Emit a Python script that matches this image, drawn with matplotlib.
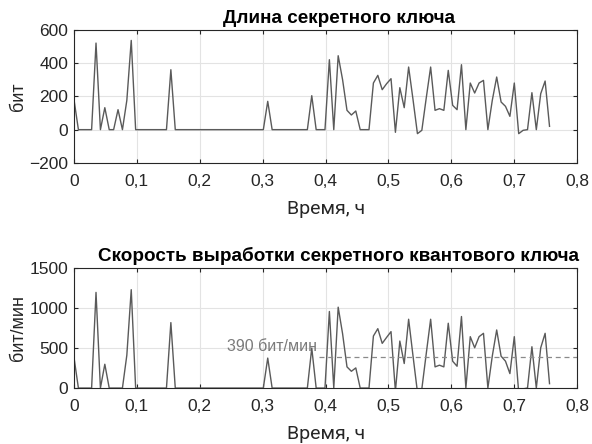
import numpy as np
import matplotlib
matplotlib.use('Agg')
import matplotlib.pyplot as plt

plt.rcParams['font.family'] = ['Liberation Sans', 'DejaVu Sans']

# time step between samples, hours
dt = 0.007

# key length per sample, bits
key_len = [180, 0, 0, 0, 0, 520, 0, 132, 0, 0,
           120, 0, 176, 536, 0, 0, 0, 0, 0, 0,
           0, 0, 360, 0, 0, 0, 0, 0, 0, 0,
           0, 0, 0, 0, 0, 0, 0, 0, 0, 0,
           0, 0, 0, 0, 170, 0, 0, 0, 0, 0,
           0, 0, 0, 0, 204, 0, 0, 0, 420, 0,
           444, 300, 116, 88, 112, 0, 0, 0, 280, 326,
           240, 276, 306, -16, 252, 132, 376, 180, -24, -4,
           190, 376, 116, 126, 116, 356, 146, 120, 390, 0,
           280, 220, 280, 296, 0, 176, 316, 166, 140, 80,
           280, -24, -4, 0, 222, 0, 216, 292, 20]

# key generation rate per sample, bits/min
key_rate = [382, 0, 0, 0, 0, 1197, 0, 298, 0, 0,
            0, 0, 412, 1231, 0, 0, 0, 0, 0, 0,
            0, 0, 819, 0, 0, 0, 0, 0, 0, 0,
            0, 0, 0, 0, 0, 0, 0, 0, 0, 0,
            0, 0, 0, 0, 375, 0, 0, 0, 0, 0,
            0, 0, 0, 0, 500, 0, 0, 0, 958, 0,
            1012, 680, 265, 210, 252, 0, 0, 0, 651, 743,
            559, 634, 706, -40, 588, 307, 861, 400, -50, -10,
            430, 861, 265, 286, 265, 811, 336, 273, 895, 0,
            643, 504, 643, 685, 0, 400, 727, 399, 336, 181,
            643, -55, -10, 0, 517, 0, 504, 685, 55]

mean_rate = 390
mean_from = 0.39

t = np.arange(len(key_len)) * dt

line_color = '#5a5a5a'
spine_color = '#262626'

fig = plt.figure(figsize=(5.92, 4.44), dpi=100)
ax1 = fig.add_axes([0.125, 0.633, 0.850, 0.300])
ax2 = fig.add_axes([0.125, 0.126, 0.850, 0.270])

def style(ax):
    ax.grid(True, color='#e3e3e3', linewidth=0.8)
    ax.set_axisbelow(True)
    for s in ax.spines.values():
        s.set_color(spine_color)
        s.set_linewidth(0.8)
    ax.tick_params(direction='in', length=3, colors=spine_color, labelsize=12.5,
                   top=True, right=True, labeltop=False, labelright=False)
    ax.tick_params(axis='x', pad=8)
    ax.tick_params(axis='y', pad=4)
    ax.set_xlim(0, 0.8)
    ax.set_xticks(np.arange(0, 0.81, 0.1))
    ax.set_xticklabels(['0'] + ['0,%d' % k for k in range(1, 9)])
    ax.set_xlabel('Время, ч', fontsize=14, family=['Roboto', 'DejaVu Sans'],
                  color=spine_color, labelpad=8)

ax1.plot(t, key_len, color=line_color, linewidth=1.0)
style(ax1)
ax1.set_ylim(-200, 600)
ax1.set_yticks([-200, 0, 200, 400, 600])
ax1.set_yticklabels(['\u2212200', '0', '200', '400', '600'])
ax1.set_ylabel('бит', fontsize=13, color=spine_color, labelpad=2)
ax1.set_title('Длина секретного ключа', fontsize=13.6, fontweight='bold',
              pad=5, x=0.527)

ax2.plot(t, key_rate, color=line_color, linewidth=1.0)
ax2.plot([mean_from, 0.8], [mean_rate, mean_rate], color='#8a8a8a',
         linewidth=0.9, linestyle=(0, (4, 3)))
ax2.text(mean_from - 0.003, mean_rate + 40, '%d бит/мин' % mean_rate,
         ha='right', va='bottom', fontsize=11.5, color='#7a7a7a')
style(ax2)
ax2.set_ylim(0, 1500)
ax2.set_yticks([0, 500, 1000, 1500])
ax2.set_ylabel('бит/мин', fontsize=13, color=spine_color, labelpad=2)
ax2.set_title('Скорость выработки секретного квантового ключа', fontsize=13.6,
              fontweight='bold', pad=5, x=0.525)

fig.savefig('out.png', dpi=100)
